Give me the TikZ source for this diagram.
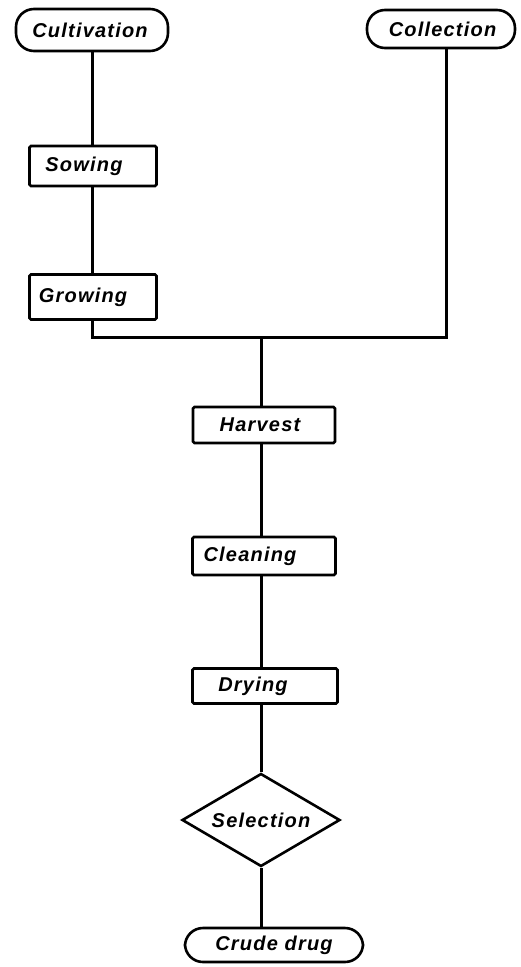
\documentclass[tikz,border=0pt]{standalone}
\usepackage{fontspec}
\setmainfont{Liberation Sans}
\newfontfamily\labelfont[LetterSpace=6]{Liberation Sans Bold Italic}
\usetikzlibrary{shapes.geometric}
\newcommand{\padr}[1]{\rule{#1}{0pt}}
\begin{document}
\begin{tikzpicture}[x=1pt,y=-1pt,
  every node/.style={font=\labelfont\fontsize{20}{20}\selectfont, line width=2.6pt, inner sep=0pt},
  term/.style={draw, rounded corners=18pt},
  proc/.style={draw, rounded corners=1.5pt},
  decide/.style={draw, diamond, aspect=1.7},
  link/.style={line width=3pt}]
\useasboundingbox (0,0) rectangle (520,967);
\node[term, minimum width=152pt, minimum height=42pt] (cult) at (92,30) {Cultivation\padr{4pt}};
\node[term, minimum width=148pt, minimum height=38pt] (coll) at (441,29) {\padr{3pt}Collection};
\node[proc, minimum width=127pt, minimum height=40pt] (sow) at (93,166) {Sowing\padr{18pt}};
\node[proc, minimum width=127pt, minimum height=45pt] (grow) at (93,297) {Growing\padr{20pt}};
\node[proc, minimum width=142pt, minimum height=36pt] (harv) at (264,425) {Harvest\padr{8pt}};
\node[proc, minimum width=143pt, minimum height=38pt] (clean) at (264,556) {Cleaning\padr{28pt}};
\node[proc, minimum width=145pt, minimum height=35pt] (dry) at (265,686) {Drying\padr{24pt}};
\node[decide, minimum width=158pt, minimum height=93pt] (sel) at (261,820) {Selection};
\node[term, minimum width=178pt, minimum height=34pt] (crude) at (274,945) {Crude drug};
\coordinate (jl) at (92,337);
\coordinate (jm) at (261,337);
\coordinate (jr) at (446,337);
\draw[link] (cult.south -| jl) -- (sow.north -| jl);
\draw[link] (sow.south -| jl) -- (grow.north -| jl);
\draw[link] (grow.south -| jl) -- (jl) -- (jr) -- (coll.south -| jr);
\draw[link] (jm) -- (harv.north -| jm);
\draw[link] (harv.south -| jm) -- (clean.north -| jm);
\draw[link] (clean.south -| jm) -- (dry.north -| jm);
\draw[link] (dry.south -| jm) -- (sel.north);
\draw[link] (sel.south) -- (crude.north -| sel.south);
\end{tikzpicture}
\end{document}
